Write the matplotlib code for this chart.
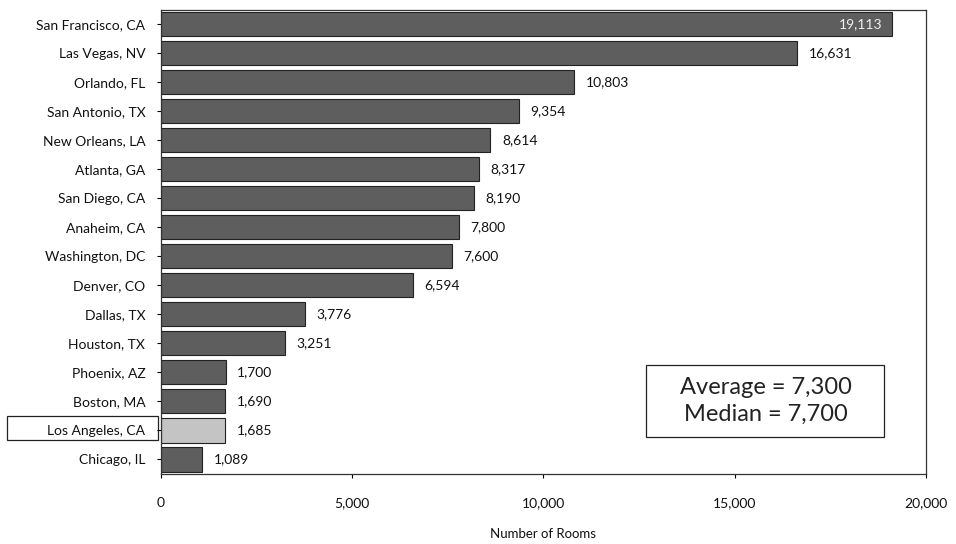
import matplotlib
matplotlib.use("Agg")
import matplotlib.pyplot as plt
from matplotlib.ticker import FuncFormatter
from matplotlib.patches import Rectangle

cities = ["San Francisco, CA", "Las Vegas, NV", "Orlando, FL", "San Antonio, TX",
          "New Orleans, LA", "Atlanta, GA", "San Diego, CA", "Anaheim, CA",
          "Washington, DC", "Denver, CO", "Dallas, TX", "Houston, TX",
          "Phoenix, AZ", "Boston, MA", "Los Angeles, CA", "Chicago, IL"]
rooms = [19113, 16631, 10803, 9354, 8614, 8317, 8190, 7800, 7600, 6594,
         3776, 3251, 1700, 1690, 1685, 1089]
highlight = "Los Angeles, CA"
xticks = [0, 5000, 10000, 15000, 20000]

plt.rcParams['font.family'] = ['Lato', 'DejaVu Sans']

fig = plt.figure(figsize=(9.56, 5.44), dpi=100)
ax = fig.add_axes([0.168, 0.129, 0.801, 0.853])

ypos = list(range(len(cities)))
colors = ["#c4c4c4" if c == highlight else "#5e5e5e" for c in cities]
bars = ax.barh(ypos, rooms, height=0.84, color=colors, edgecolor="#222222", linewidth=0.8)
ax.set_ylim(len(cities) - 0.5, -0.5)
ax.set_xlim(0, 20000)
ax.set_yticks(ypos)
ax.set_yticklabels(cities, fontsize=10, color="#111111")
ax.set_xticks(xticks)
ax.xaxis.set_major_formatter(FuncFormatter(lambda v, p: f"{int(v):,}"))
ax.tick_params(axis='x', labelsize=10, length=3, pad=14, labelcolor="#111111")
ax.tick_params(axis='y', length=3, pad=8)
ax.set_xlabel("Number of Rooms", fontsize=9.5, color="#111111")
ax.xaxis.set_label_coords(0.5, -0.117)
for s in ax.spines.values():
    s.set_color("#333333")
    s.set_linewidth(0.9)

for i, (c, v) in enumerate(zip(cities, rooms)):
    if v == max(rooms):
        ax.text(v - 250, i, f"{v:,}", ha='right', va='center', fontsize=10, color="#f0f0f0")
    else:
        ax.text(v + 300, i, f"{v:,}", ha='left', va='center', fontsize=10, color="#111111")

ax.add_patch(Rectangle((-0.2, 0.073), 0.196, 0.052, transform=ax.transAxes,
                       fill=False, edgecolor="#222222", linewidth=0.9, clip_on=False))

ax.add_patch(Rectangle((0.634, 0.080), 0.311, 0.155, transform=ax.transAxes,
                       facecolor='white', edgecolor="#222222", linewidth=0.9, zorder=4))
ax.text(0.79, 0.157, "Average = 7,300\nMedian = 7,700", transform=ax.transAxes,
        ha='center', va='center', fontsize=17, color="#222222", linespacing=1.3, zorder=5)

fig.savefig("out.png", dpi=100)
